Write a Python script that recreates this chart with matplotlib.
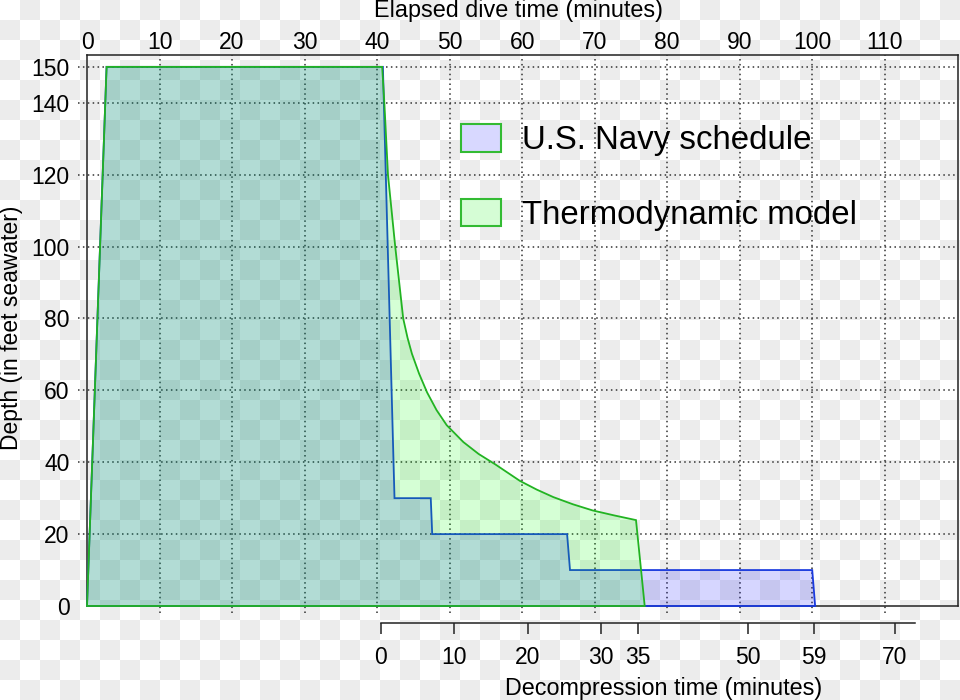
import numpy as np
import matplotlib
matplotlib.use('Agg')
import matplotlib.pyplot as plt
from matplotlib.patches import Patch

plt.rcParams['font.family'] = ['Liberation Sans', 'DejaVu Sans']

# dive profiles, elapsed time (min) vs depth (fsw)
navy_t = [0, 2.7, 40.8, 42.4, 47.4, 47.6, 66.2, 66.6, 100.0, 100.4]
navy_d = [0, 150, 150, 30, 30, 20, 20, 10, 10, 0]

thermo_t = [0, 2.7, 40.7, 41.0, 41.5, 42.5, 43.6, 44.2, 44.8, 45.8, 46.9, 48.2, 49.6,
            51.9, 54.0, 56.3, 59.7, 62.0, 64.3, 67.0, 69.7, 72.7, 75.7, 76.9]
thermo_d = [0, 150, 150, 140, 120, 100, 80, 74.6, 70.2, 64.6, 59.4, 54.5, 50.3,
            45.6, 42.3, 39.4, 34.8, 32.4, 30.3, 28.3, 26.6, 25.2, 23.9, 0]

elapsed_ticks = [0, 10, 20, 30, 40, 50, 60, 70, 80, 90, 100, 110]
depth_ticks = [0, 20, 40, 60, 80, 100, 120, 140, 150]
deco_ticks = [0, 10, 20, 30, 35, 50, 59, 70]
labels = ['U.S. Navy schedule', 'Thermodynamic model']

blue = '#1a3ade'
green = '#22b322'
W, H = 960, 700

fig = plt.figure(figsize=(W / 100, H / 100), dpi=100)

# transparency checkerboard behind everything
yy, xx = np.mgrid[0:H, 0:W]
odd = ((yy // 20 + xx // 20) % 2) == 1
img = np.full((H, W, 3), 255, dtype=np.uint8)
img[odd] = 236
fig.figimage(img, 0, 0, zorder=-1, origin='upper')

ax = fig.add_axes([87 / W, 1 - 606 / H, 871 / W, 551 / H])
ax.set_facecolor('none')
ax.set_xlim(0, 120.1)
ax.set_ylim(0, 153.3)

ax.fill(navy_t, navy_d, facecolor=(0, 0, 1, 0.16), edgecolor=blue, lw=1.3,
        clip_on=False, zorder=3)
ax.fill(thermo_t, thermo_d, facecolor=(0, 1, 0, 0.165), edgecolor=green, lw=1.3,
        clip_on=False, zorder=4)

# dotted grid, sticking out a little past the frame like in the original
for x in elapsed_ticks[1:]:
    ax.plot([x, x], [-0.0127, 1], transform=ax.get_xaxis_transform(), clip_on=False,
            color='#333333', lw=1.1, ls=(0, (1, 2.2)), zorder=2)
for y in depth_ticks[1:]:
    ax.plot([-0.0103, 1], [y, y], transform=ax.get_yaxis_transform(), clip_on=False,
            color='#333333', lw=1.1, ls=(0, (1, 2.2)), zorder=2)

ax.xaxis.tick_top()
ax.set_xticks(elapsed_ticks)
ax.set_yticks(depth_ticks)
ax.tick_params(axis='x', length=0, pad=1, labelsize=16.5)
ax.tick_params(axis='y', length=0, pad=12.6, labelsize=16.5)
for s in ax.spines.values():
    s.set_linewidth(1.1)
    s.set_color('#222222')

# separate decompression time axis underneath
ax2 = fig.add_axes([87 / W, 1 - 623.3 / H, 871 / W, 0.0001])
ax2.set_facecolor('none')
ax2.set_xlim(-40.02, 78.62)
ax2.set_yticks([])
for k in ['top', 'left', 'right']:
    ax2.spines[k].set_visible(False)
ax2.spines['bottom'].set_bounds(0, 72.8)
ax2.spines['bottom'].set_linewidth(1.1)
ax2.spines['bottom'].set_color('#222222')
ax2.set_xticks(deco_ticks)
ax2.tick_params(axis='x', direction='out', length=7.6, width=1.1, color='#222222',
                pad=9, labelsize=16.5)

fig.text(518 / W, 1 - 11 / H, 'Elapsed dive time (minutes)', ha='center', va='center',
         fontsize=16.8)
fig.text(664 / W, 1 - 688 / H, 'Decompression time (minutes)', ha='center', va='center',
         fontsize=16.8)
fig.text(12 / W, 1 - 328 / H, 'Depth (in feet seawater)', ha='center', va='center',
         rotation=90, fontsize=16.5)

handles = [Patch(facecolor='#d8d8ff', edgecolor='#33bb33', lw=1.5),
           Patch(facecolor='#d5fdd5', edgecolor='#33bb33', lw=1.5)]
fig.legend(handles, labels, loc='upper left', bbox_to_anchor=(461 / W, 1 - 124 / H),
           frameon=False, fontsize=23.8, handlelength=40 / 33, handleheight=30 / 33,
           handletextpad=21 / 33, labelspacing=1.28, borderpad=0, borderaxespad=0)

fig.savefig('out.png', dpi=100)
